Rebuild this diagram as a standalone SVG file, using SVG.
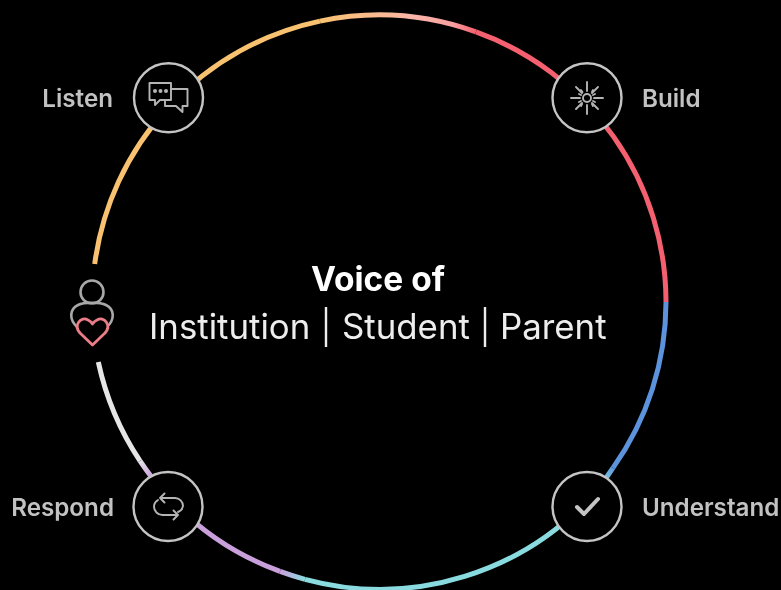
<svg xmlns="http://www.w3.org/2000/svg" width="781" height="590" viewBox="0 0 781 590">
<style>
.ring{fill:none;stroke-width:5}
.node{fill:#000;stroke:#c4c4c4;stroke-width:2.4}
.ico{fill:none;stroke:#b4b4b4;stroke-width:1.9;stroke-linecap:round;stroke-linejoin:round}
.lbl{font-family:Inter,"Liberation Sans",sans-serif;font-size:24.200px;font-weight:600;fill:#c2c2c2}
.mid{font-family:Inter,"Liberation Sans",sans-serif;font-size:34.800px;fill:#ededed}
.sep{stroke:#ededed;stroke-width:2.4}
</style>
<defs>
<filter id="soft" x="0" y="0" width="781" height="590" filterUnits="userSpaceOnUse"><feGaussianBlur stdDeviation="0.6"/></filter>
<linearGradient id="g1" gradientUnits="userSpaceOnUse" x1="320" y1="0" x2="476" y2="0"><stop offset="0" stop-color="#f9c270"/><stop offset=".6" stop-color="#fab5a8"/><stop offset=".85" stop-color="#f8a0a0"/><stop offset="1" stop-color="#f5616f"/></linearGradient>
<linearGradient id="g2" gradientUnits="userSpaceOnUse" x1="613" y1="466" x2="600" y2="484"><stop offset="0" stop-color="#5b93dc"/><stop offset="1" stop-color="#8adbe0"/></linearGradient>
<linearGradient id="g3" gradientUnits="userSpaceOnUse" x1="280" y1="0" x2="305" y2="0"><stop offset="0" stop-color="#c9a0dc"/><stop offset="1" stop-color="#8adbe0"/></linearGradient>
<linearGradient id="g4" gradientUnits="userSpaceOnUse" x1="140" y1="460" x2="152" y2="476"><stop offset="0" stop-color="#e6e6e6"/><stop offset="1" stop-color="#c9a0dc"/></linearGradient>
</defs>
<rect width="781" height="590" fill="#000"/>
<g filter="url(#soft)">
<g id="connectors">
<path class="ring" stroke="#f9c270" d="M94.700 264A287 287 0 0 1 320 21.100"/>
<path class="ring" stroke="url(#g1)" d="M320 21.100A287 287 0 0 1 476 31.900"/>
<path class="ring" stroke="#f5616f" d="M476 31.900A287 287 0 0 1 666 302"/>
<path class="ring" stroke="#5b93dc" d="M666 302A287 287 0 0 1 613 467.900"/>
<path class="ring" stroke="url(#g2)" d="M613 467.900A287 287 0 0 1 598 488.700"/>
<path class="ring" stroke="#8adbe0" d="M598 488.700A287 287 0 0 1 305 579.300"/>
<path class="ring" stroke="url(#g3)" d="M305 579.300A287 287 0 0 1 280 571.400"/>
<path class="ring" stroke="#c9a0dc" d="M280 571.400A287 287 0 0 1 152 477.600"/>
<path class="ring" stroke="url(#g4)" d="M152 477.600A287 287 0 0 1 140 460.900"/>
<path class="ring" stroke="#e6e6e6" d="M140 460.900A287 287 0 0 1 98.300 362"/>
</g>
<g id="center">
<text class="mid" x="311" y="291" style="font-weight:700;fill:#fff;font-size:33.500px">Voice of</text>
<text class="mid" x="149" y="339">Institution</text>
<line class="sep" x1="326" y1="307" x2="326" y2="347"/>
<text class="mid" x="342" y="339">Student</text>
<line class="sep" x1="485" y1="307" x2="485" y2="347"/>
<text class="mid" x="500" y="339">Parent</text>
</g>
<g id="listen">
<circle class="node" cx="168.500" cy="97.700" r="34.500"/>
<path class="ico" d="M149.500 83H171V100H160L155 105L155 100H149.500Z"/>
<path class="ico" d="M171 89H187.500V106H182.500V112L176 106H165V100"/>
<circle cx="155" cy="91" r="2" fill="#b4b4b4"/><circle cx="160.500" cy="91" r="2" fill="#b4b4b4"/><circle cx="166" cy="91" r="2" fill="#b4b4b4"/>
<text class="lbl" x="113" y="107" text-anchor="end">Listen</text>
</g>
<g id="build">
<circle class="node" cx="587" cy="97.700" r="34.500"/>
<circle class="ico" cx="587" cy="98" r="4"/>
<path class="ico" d="M587 82V91M587 105V114M571 98H580M594 98H603M576 87L582 93M592 103L598 109M598 87L592 93M582 103L576 109"/>
<path class="ico" stroke-width="1.400" d="M581 90L582.500 92M592 104L593 106M593 90L592 92M582 104L581 106M579 94L581 95M593 101L595 102M595 94L593 95M581 101L579 102"/>
<text class="lbl" x="642" y="107">Build</text>
</g>
<g id="respond">
<circle class="node" cx="168" cy="506.500" r="34.500"/>
<path class="ico" d="M160 498H175A8 8 0 0 1 183 506A8 8 0 0 1 178 512M164.500 493.500L160 498L164.500 502.500"/>
<path class="ico" d="M178 515H163A8.500 8.500 0 0 1 154 506A8 8 0 0 1 158 500M173.500 510.500L178 515L173.500 519.500"/>
<text class="lbl" x="114" y="516" text-anchor="end">Respond</text>
</g>
<g id="understand">
<circle class="node" cx="587" cy="506.500" r="34.500"/>
<path d="M577 507L584 514L598 499" fill="none" stroke="#c4c4c4" stroke-width="4" stroke-linecap="round" stroke-linejoin="round"/>
<text class="lbl" x="642" y="516">Understand</text>
</g>
<g id="voice">
<circle cx="92" cy="292" r="11.500" fill="none" stroke="#a8a8a8" stroke-width="2.600"/>
<path d="M78 328C68 319 70 309 78 305C84 302 100 302 106 305C114 309 116 319 106 328" fill="none" stroke="#a8a8a8" stroke-width="2.600" stroke-linecap="round"/>
<path d="M92.500 345L80 333C73 325 81 316 88 320C90 321 92 323 92.500 324C93 323 95 321 97 320C104 316 112 325 105 333Z" fill="#000" stroke="#ea7d88" stroke-width="2.800" stroke-linejoin="round"/>
</g>
</g>
</svg>
